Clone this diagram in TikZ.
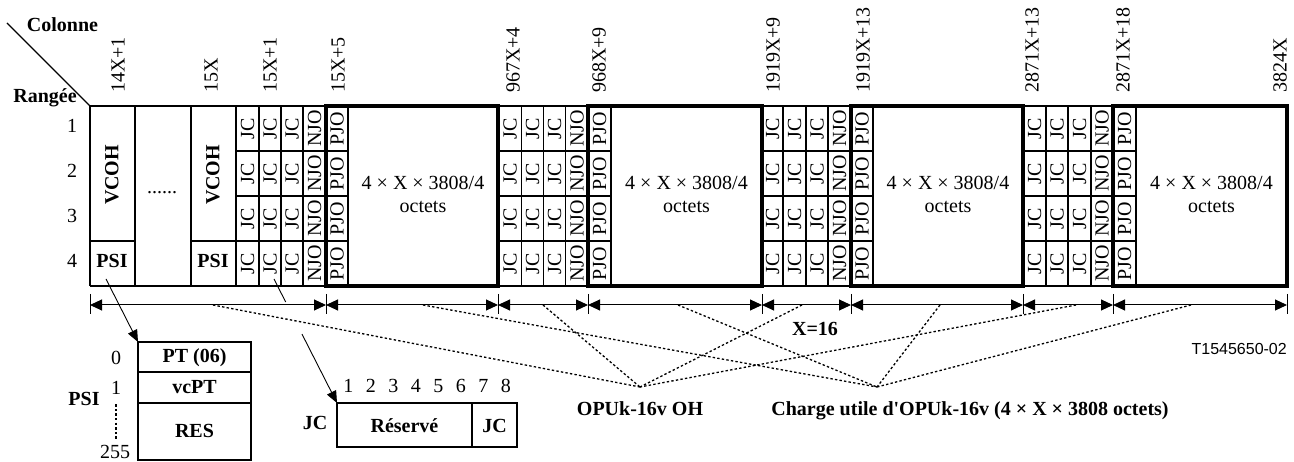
\documentclass[tikz,border=0pt]{standalone}
\usepackage{fontspec}
\setmainfont{Liberation Serif}
\newfontfamily\rawserif{Liberation Serif}
\newfontfamily\arialfont{Liberation Sans}
\usetikzlibrary{arrows.meta,calc}
\begin{document}
\begin{tikzpicture}[x=1pt,y=-1pt,
  thinl/.style={line width=1.5pt},
  thickl/.style={line width=3.8pt},
  txt/.style={font=\fontsize{20}{23}\selectfont, inner sep=0pt},
  btxt/.style={font=\fontsize{20}{23}\selectfont\bfseries, inner sep=0pt},
  vert/.style={rotate=90},
  dotl/.style={line width=1.3pt, dash pattern=on 2.4pt off 2.2pt},
  dimline/.style={line width=1pt, {Triangle[length=12pt,width=11pt]}-{Triangle[length=12pt,width=11pt]}},
  conn/.style={line width=0.9pt},
  conntip/.style={line width=0.9pt, -{Triangle[length=12pt,width=10pt]}}]
\useasboundingbox (0,0) rectangle (1294,462);

% ---------- headings ----------
\draw[line width=1.3pt] (7,23) -- (90,106);
\node[btxt, anchor=base] (colonne) at (62.5,32) {Colonne};
\node[btxt, anchor=base] (rangee) at (45,103) {Rangée};
\foreach \r/\b in {1/133,2/178,3/223,4/268}
  \node[txt, anchor=base] (row\r) at (72,\b) {\r};

% column labels
\foreach \x/\t [count=\i] in {118/14X+1, 211/15X, 270/15X+1, 338/15X+5, 513/967X+4, 599/968X+9, 773/1919X+9, 863/1919X+13, 1032/2871X+13, 1123/2871X+18, 1280/3824X}
  \node[txt, vert, anchor=west] (col\i) at (\x,93) {\t};

% ---------- grid (thin) ----------
\draw[thinl] (90,106) -- (326,106) (90,286) -- (326,286);
\foreach \x in {90,135,191,236,259,281,303,348,521.7,543.3,565.7,611,783,806,828,873,1046,1068,1091,1136}
  \draw[thinl] (\x,106) -- (\x,286);
\draw[thinl] (498,106) -- (588,106) (498,286) -- (588,286)
             (762,106) -- (851,106) (762,286) -- (851,286)
             (1023,106) -- (1113,106) (1023,286) -- (1113,286);
\draw[thinl] (90,241) -- (135,241) (191,241) -- (236,241);
\foreach \y in {151,196,241}
  \draw[thinl] (236,\y) -- (348,\y) (498,\y) -- (611,\y) (762,\y) -- (873,\y) (1023,\y) -- (1136,\y);

% thick boxes
\foreach \a/\b in {326/498, 588.3/762, 851/1023, 1113/1287}
  \draw[thickl, line join=miter] (\a,106) rectangle (\b,286);

% ---------- cell texts ----------
\node[btxt, vert] (vcoh1) at (112,175) {VCOH};
\node[btxt, vert] (vcoh2) at (213,175) {VCOH};
\node[btxt, anchor=base] (psi1) at (112,268) {PSI};
\node[btxt, anchor=base] (psi2) at (213,268) {PSI};
\node[txt, anchor=base] (dots) at (162,194) {......};

\foreach \g/\xa/\xb/\xc/\xn/\xp in {1/247.5/270/292/314.5/337, 2/510/532.5/554.5/577/599.7, 3/772.5/794.5/817/839.5/862, 4/1034.5/1057/1079.5/1102/1124.5} {
  \foreach \r/\y in {1/128.5,2/173.5,3/218.5,4/263.5} {
    \node[txt, vert] (jca-\g-\r) at (\xa,\y) {JC};
    \node[txt, vert] (jcb-\g-\r) at (\xb,\y) {JC};
    \node[txt, vert] (jcc-\g-\r) at (\xc,\y) {JC};
    \node[txt, vert] (njo-\g-\r) at (\xn,\y) {NJO};
    \node[txt, vert] (pjo-\g-\r) at (\xp,\y) {PJO};
  }
}
\foreach \x [count=\i] in {423, 686.5, 948, 1211.5}
  \node[txt, align=center] (pay\i) at (\x,194) {4 × X × 3808/4\\octets};

% ---------- dimension line ----------
\foreach \x [count=\i from 0] in {90,326,498,588,762,851,1023,1113,1287} {
  \coordinate (d\i) at (\x,305);
  \draw[line width=0.8pt] (\x,294) -- (\x,314);
}
\foreach \i [evaluate=\i as \j using int(\i+1)] in {0,...,7}
  \draw[dimline] (d\i) -- (d\j);

% ---------- dotted fan ----------
\coordinate (oh) at (640,387);
\coordinate (cu) at (877,387);
\foreach \x [count=\i] in {213,543,802,1076} {
  \coordinate (so\i) at (\x,305);
  \draw[dotl] (so\i) -- (oh);
}
\foreach \x [count=\i] in {423,678,940,1191} {
  \coordinate (sc\i) at (\x,305);
  \draw[dotl] (sc\i) -- (cu);
}
\node[btxt, anchor=base] (ohlab) at (640,415) {OPUk-16v OH};
\node[inner sep=0pt, anchor=base, font=\rawserif\fontsize{20}{23}\selectfont\bfseries] (culab) at (970,416) {Charge utile d'OPUk-16v (4 × X × 3808 octets)};
\node[btxt, anchor=base] (xlab) at (815,336) {X=16};
\node[inner sep=0pt, anchor=base east, font=\arialfont\fontsize{16}{18}\selectfont] (ref) at (1287,355) {T1545650-02};

% ---------- PSI detail ----------
\coordinate (psibox) at (138,342);
\draw[thinl] (psibox) rectangle (251,460);
\draw[line width=2.4pt] (138,372) -- (251,372) (138,403) -- (251,403);
\node[btxt, anchor=base] (pt) at (194.5,363) {PT (06)};
\node[btxt, anchor=base] (vcpt) at (194.5,394) {vcPT};
\node[btxt, anchor=base] (res) at (194.5,437) {RES};
\node[txt, anchor=base] (n0) at (116,365) {0};
\node[txt, anchor=base] (n1) at (116,395) {1};
\node[txt, anchor=base] (n255) at (115,458) {255};
\draw[dotl, line width=1.6pt] (n1.south) ++(0,9) coordinate (dtop) -- (116,439) coordinate (dbot);
\node[btxt, anchor=base] (psilab) at (84,406) {PSI};
\coordinate (psisrc) at (106,279);
\draw[conntip] (psisrc) -- (psibox);

% ---------- JC detail ----------
\coordinate (jcbox) at (337,403);
\draw[line width=1.4pt] (jcbox) rectangle (517,447);
\draw[line width=1.4pt] (472,403) -- (472,447);
\foreach \b in {1,...,8}
  \node[txt, anchor=base] (bit\b) at ({337+22.5*(\b-0.5)},392) {\b};
\node[btxt, anchor=base] (reserve) at (404.5,432) {Réservé};
\node[btxt, anchor=base] (jcin) at (494.5,432) {JC};
\node[btxt, anchor=base] (jclab) at (315,429) {JC};
\coordinate (jcsrc) at (274,279);
\draw[conn] (jcsrc) -- ($(jcsrc)!0.185!(jcbox)$);
\draw[conntip] ($(jcsrc)!0.444!(jcbox)$) -- (jcbox);
\end{tikzpicture}
\end{document}
